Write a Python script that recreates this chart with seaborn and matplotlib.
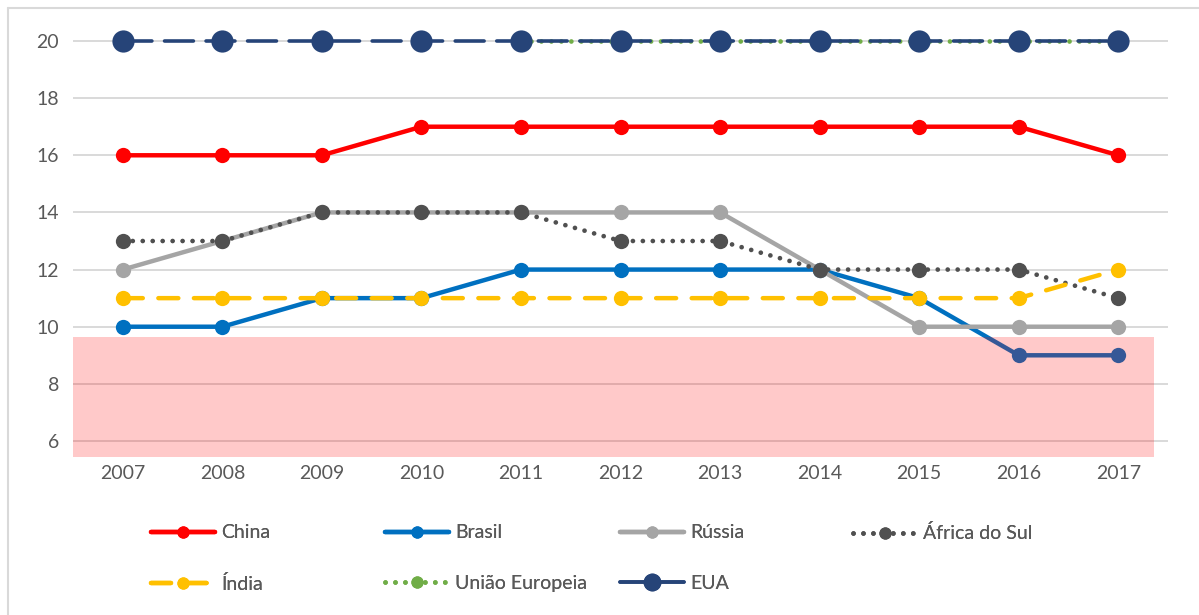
import numpy as np
import pandas as pd
import matplotlib
matplotlib.use('Agg')
import matplotlib.pyplot as plt
from matplotlib.lines import Line2D
import seaborn as sns

anos = [2007, 2008, 2009, 2010, 2011, 2012, 2013, 2014, 2015, 2016, 2017]
china = [16, 16, 16, 17, 17, 17, 17, 17, 17, 17, 16]
brasil = [10, 10, 11, 11, 12, 12, 12, 12, 11, 9, 9]
russia = [12, 13, 14, 14, 14, 14, 14, 12, 10, 10, 10]
africa_sul = [13, 13, 14, 14, 14, 13, 13, 12, 12, 12, 11]
india = [11, 11, 11, 11, 11, 11, 11, 11, 11, 11, 12]
uniao_europeia = [np.nan, np.nan, np.nan, np.nan, 20, 20, 20, 20, 20, 20, 20]
eua = [20, 20, 20, 20, 20, 20, 20, 20, 20, 20, 20]
yticks = [6, 8, 10, 12, 14, 16, 18, 20]

series = [
    ('China', china),
    ('Brasil', brasil),
    ('Rússia', russia),
    ('África do Sul', africa_sul),
    ('Índia', india),
    ('União Europeia', uniao_europeia),
    ('EUA', eua),
]

# estilo de cada série (cor, traço, marcador)
estilos = {
    'China': dict(color='#FF0000', lw=3.2, ms=11, dashes=None),
    'Brasil': dict(color='#0070C0', lw=3.2, ms=11, dashes=None),
    'Rússia': dict(color='#A5A5A5', lw=3.2, ms=11, dashes=None),
    'África do Sul': dict(color='#505050', lw=3.4, ms=11, dashes=(0.01, 2.1)),
    'Índia': dict(color='#FFC000', lw=3.2, ms=11, dashes=(4.5, 3.5)),
    'União Europeia': dict(color='#70AD47', lw=3.4, ms=11, dashes=(0.01, 2.1)),
    'EUA': dict(color='#264478', lw=2.6, ms=16, dashes=(8, 3.5)),
}

sns.set_style('white')
plt.rcParams['font.family'] = ['Lato', 'DejaVu Sans']

fig = plt.figure(figsize=(11.99, 6.15), dpi=100)
ax = fig.add_axes([0.0609, 0.2569, 0.9133, 0.7229])

x_pos = np.arange(len(anos))
for nome, valores in series:
    st = estilos[nome]
    df = pd.DataFrame({'x': x_pos, 'y': valores})
    sns.lineplot(data=df, x='x', y='y', ax=ax, color=st['color'], linewidth=st['lw'],
                 marker='o', markersize=st['ms'], markeredgewidth=0, legend=False,
                 zorder=3)
    line = ax.get_lines()[-1]
    if st['dashes'] is not None:
        line.set_dashes(st['dashes'])
        line.set_dash_capstyle('round')

# faixa rosa semitransparente
ax.axhspan(5.44, 9.64, xmin=0, xmax=(10.36 + 0.5) / 11, color='#FF0000', alpha=0.21,
           lw=0, zorder=5)

ax.set_xlim(-0.5, len(anos) - 0.5)
ax.set_ylim(5.44, 21.0)
ax.set_xticks(x_pos)
ax.set_xticklabels([str(a) for a in anos])
ax.set_yticks(yticks)
ax.set_xlabel('')
ax.set_ylabel('')
ax.grid(axis='y', color='#D9D9D9', lw=1.4, zorder=0)
ax.set_axisbelow(True)
for s in ax.spines.values():
    s.set_visible(False)
ax.tick_params(axis='both', length=0, labelsize=14, labelcolor='#595959', pad=10)
ax.tick_params(axis='x', pad=6)

# legenda em 4 colunas
colunas = [['China', 'Índia'], ['Brasil', 'União Europeia'], ['Rússia', 'EUA'], ['África do Sul']]
x_cols = [0.118, 0.313, 0.509, 0.703]
for xc, nomes in zip(x_cols, colunas):
    handles = []
    for nome in nomes:
        st = estilos[nome]
        h = Line2D([0], [0], color=st['color'], lw=st['lw'], marker='o',
                   markersize=st['ms'] * 0.8, markeredgewidth=0)
        if st['dashes'] is not None:
            h.set_dashes(st['dashes'])
            h.set_dash_capstyle('round')
        handles.append(h)
    leg = fig.legend(handles, nomes, loc='upper left', bbox_to_anchor=(xc, 0.163),
                     frameon=False, fontsize=14, handlelength=3.3, handletextpad=0.3,
                     labelspacing=1.7, borderpad=0, labelcolor='#595959')
    fig.add_artist(leg)

# borda (só topo e esquerda visíveis)
fig.add_artist(Line2D([7.5 / 1199, 7.5 / 1199], [0, 1 - 7.5 / 615], color='#D9D9D9', lw=1.5))
fig.add_artist(Line2D([7.5 / 1199, 1], [1 - 7.5 / 615, 1 - 7.5 / 615], color='#D9D9D9', lw=1.5))

fig.savefig('out.png', dpi=100, facecolor='white')
